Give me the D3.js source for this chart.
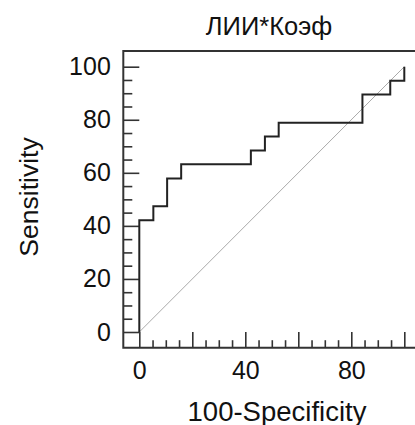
<!DOCTYPE html>
<html><head><meta charset="utf-8">
<script src="https://cdn.jsdelivr.net/npm/d3@7"></script>
<style>body{margin:0;background:#fff}svg{display:block}text{font-family:"Liberation Sans",Arial,sans-serif;fill:#111}</style>
</head><body><svg id="c" width="415" height="425"></svg>
<script>
// ROC curve vertices (100-Specificity, Sensitivity)
const fpr  = [0, 0, 5.3, 5.3, 10.5, 10.5, 15.8, 15.8, 42.1, 42.1, 47.4, 47.4, 52.6, 52.6, 84.2, 84.2, 94.7, 94.7, 100, 100];
const sens = [0, 42.1, 42.1, 47.4, 47.4, 57.9, 57.9, 63.2, 63.2, 68.4, 68.4, 73.7, 73.7, 78.9, 78.9, 89.5, 89.5, 94.7, 94.7, 100];
const yTickLabels = [0, 20, 40, 60, 80, 100];
const xTickLabels = [0, 40, 80];
const title = "ЛИИ*Коэф";
const xTitle = "100-Specificity";
const yTitle = "Sensitivity";

const svg = d3.select("#c");
const x = d3.scaleLinear().domain([0, 100]).range([139.3, 404.3]);
const y = d3.scaleLinear().domain([0, 100]).range([332, 66.7]);
const fx0 = 123.3, fx1 = 421, fy0 = 51, fy1 = 347.7;

// diagonal
svg.append("line").attr("x1", x(0)).attr("y1", y(0)).attr("x2", x(100)).attr("y2", y(100))
  .attr("stroke", "#aaa").attr("stroke-width", 1);

// frame
svg.append("path").attr("d", `M${fx1},${fy0}H${fx0}V${fy1}H${fx1}`)
  .attr("fill", "none").attr("stroke", "#333").attr("stroke-width", 2);

const minor = d3.range(0, 101, 5).filter(v => v % 20 !== 0);
const major = d3.range(0, 101, 20);

// y axis
const gy = svg.append("g").attr("transform", `translate(${fx0},0)`);
gy.call(d3.axisLeft(y).tickValues(minor).tickSize(-9).tickFormat(""));
gy.call(g => g.select(".domain").remove());
const gy2 = svg.append("g").attr("transform", `translate(${fx0},0)`);
gy2.call(d3.axisLeft(y).tickValues(yTickLabels).tickSize(-(x(0) - fx0)).tickPadding(12.5).tickFormat(d3.format("d")));
gy2.select(".domain").remove();
gy2.selectAll("text").attr("font-size", 25).attr("fill", "#111");

// x axis
const gx = svg.append("g").attr("transform", `translate(0,${fy1})`);
gx.call(d3.axisBottom(x).tickValues(minor).tickSize(-7.5).tickFormat(""));
gx.select(".domain").remove();
const gx2 = svg.append("g").attr("transform", `translate(0,${fy1})`);
gx2.call(d3.axisBottom(x).tickValues(major).tickSize(-(fy1 - y(0))).tickPadding(14)
  .tickFormat(d => xTickLabels.includes(d) ? d : ""));
gx2.select(".domain").remove();
gx2.selectAll("text").attr("font-size", 25).attr("fill", "#111");
svg.selectAll(".tick line").attr("stroke", "#333").attr("stroke-width", 1.6);

// ROC curve
const pts = fpr.map((v, i) => [v, sens[i]]);
svg.append("path").datum(pts)
  .attr("d", d3.line().x(d => x(d[0])).y(d => y(d[1])))
  .attr("fill", "none").attr("stroke", "#222").attr("stroke-width", 2);

// titles
svg.append("text").attr("x", 269).attr("y", 35).attr("text-anchor", "middle").attr("font-size", 25.5).text(title);
svg.append("text").attr("x", 277).attr("y", 420.5).attr("text-anchor", "middle").attr("font-size", 27.5).text(xTitle);
svg.append("text").attr("transform", "translate(38,197) rotate(-90)").attr("text-anchor", "middle").attr("font-size", 26.5).text(yTitle);
</script></body></html>
